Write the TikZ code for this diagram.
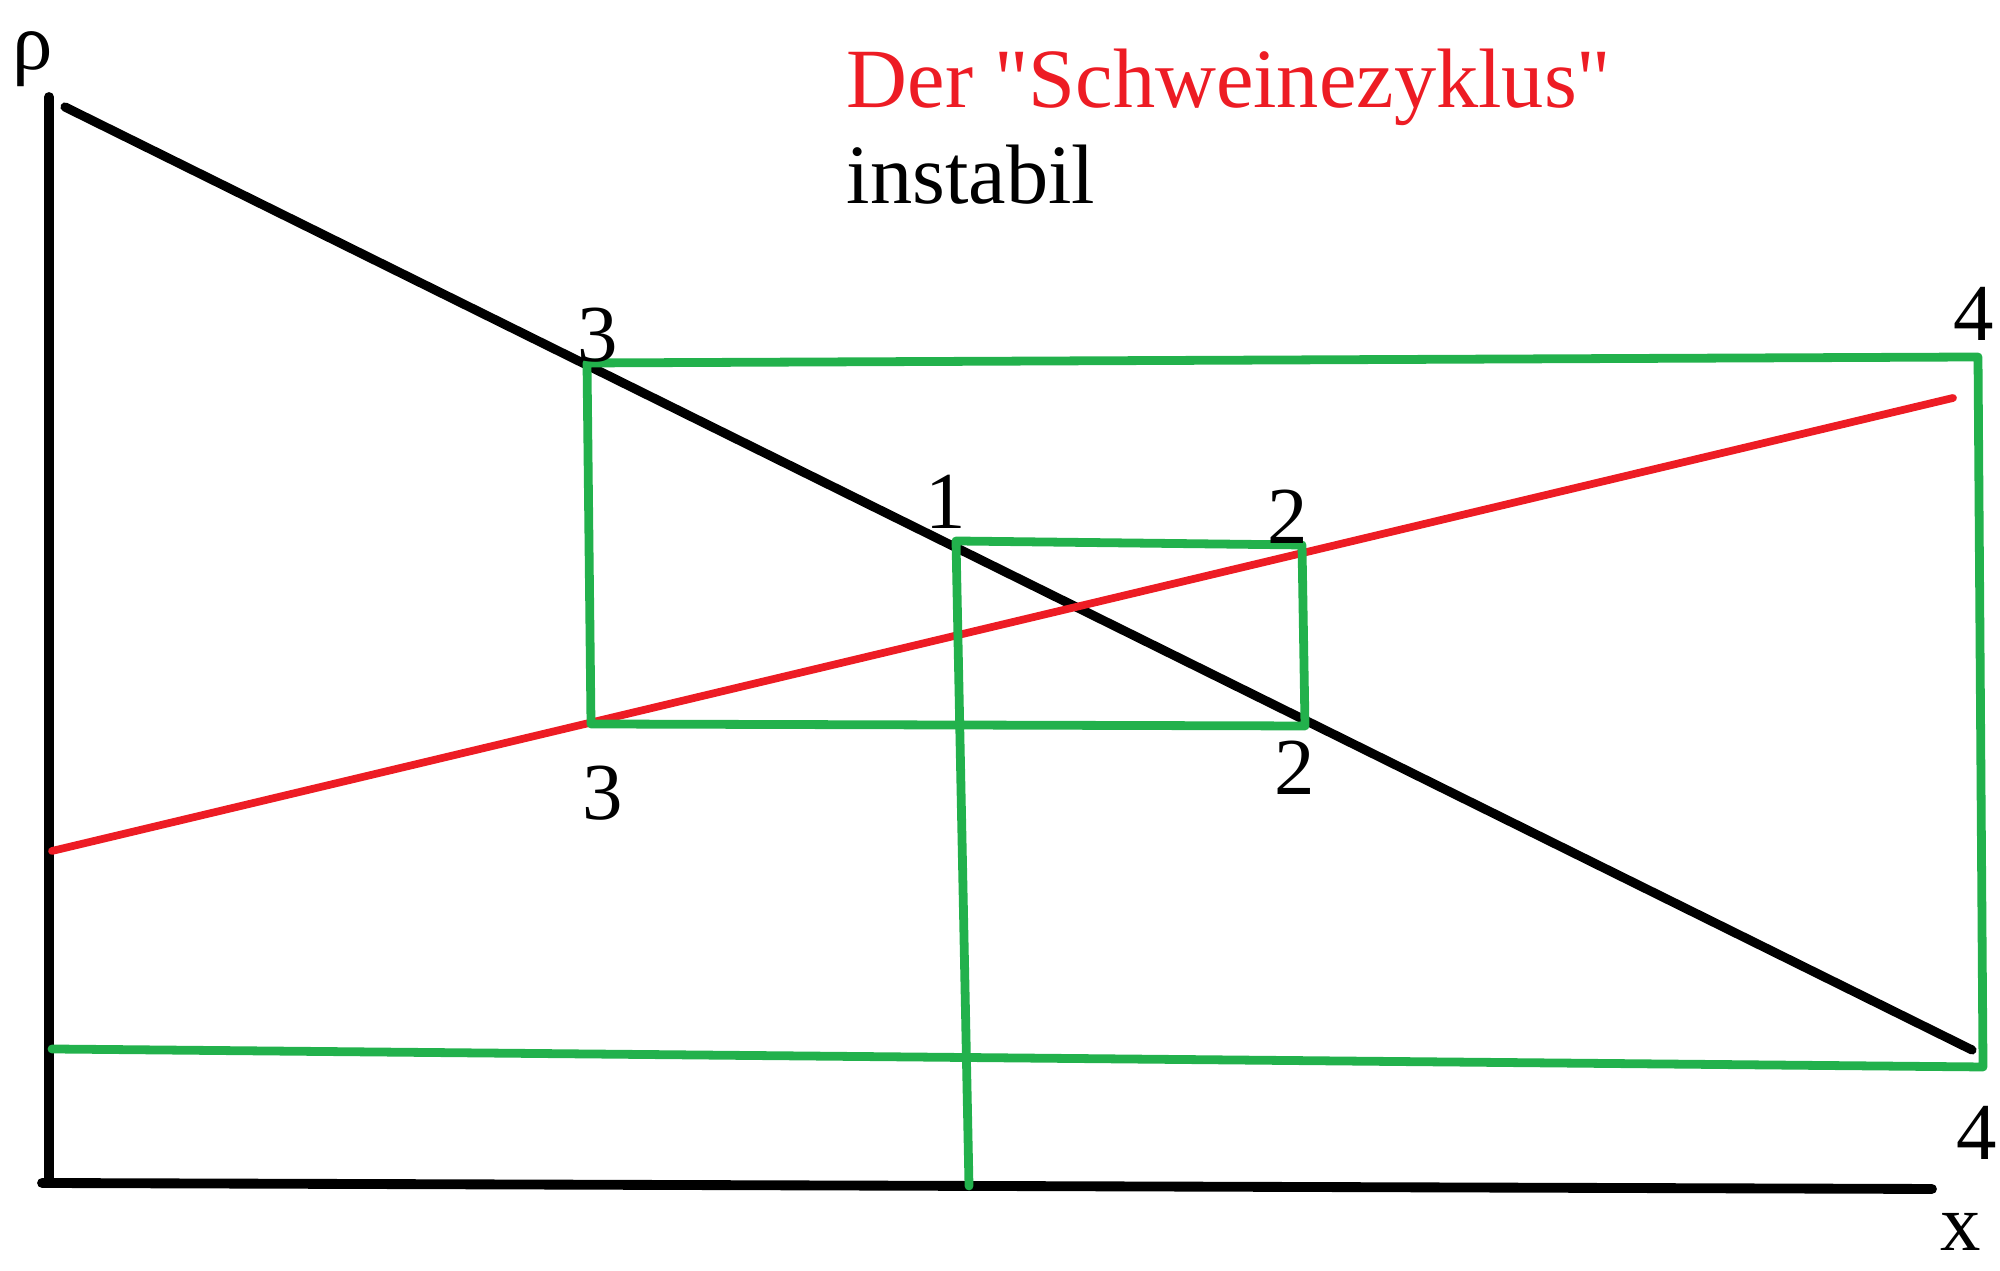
\documentclass[tikz,border=0pt]{standalone}
\usepackage{fontspec}
\setmainfont{Liberation Serif}
\usepackage{xcolor}
\usepackage{tikz}
\definecolor{paintgreen}{RGB}{34,177,76}
\definecolor{paintred}{RGB}{237,28,36}

\begin{document}
\begin{tikzpicture}[
        axis/.style={line width=2.8pt, line cap=round, black},
        demand/.style={line width=2.6pt, line cap=round, black},
        supply/.style={line width=2.2pt, line cap=round, paintred},
        cobweb/.style={line width=2.5pt, line cap=round, line join=round, paintgreen},
        lbl/.style={inner sep=0pt, font=\fontsize{23}{27}\selectfont},
    ]
        \useasboundingbox (0,0) rectangle (20,12.71);

        \coordinate (orig) at (0.49,0.88);
        \coordinate (ytop) at (0.49,11.74);
        \coordinate (xstart) at (0.42,0.88);
        \coordinate (xend) at (19.32,0.82);
        \coordinate (dA) at (0.65,11.64);
        \coordinate (dB) at (19.72,2.21);
        \coordinate (sA) at (0.52,4.20);
        \coordinate (sB) at (19.53,8.73);

        \coordinate (p0) at (9.69,0.85);
        \coordinate (p1) at (9.56,7.30);
        \coordinate (p2u) at (13.02,7.26);
        \coordinate (p2l) at (13.05,5.45);
        \coordinate (p3l) at (5.91,5.47);
        \coordinate (p3u) at (5.87,9.08);
        \coordinate (p4u) at (19.78,9.14);
        \coordinate (p4l) at (19.83,2.04);
        \coordinate (p5) at (0.52,2.22);

        \draw[axis] (orig) -- (ytop);
        \draw[axis] (xstart) -- (xend);
        \draw[demand] (dA) -- (dB);
        \draw[supply] (sA) -- (sB);
        \draw[cobweb] (p0) -- (p1) -- (p2u) -- (p2l) -- (p3l) -- (p3u) -- (p4u) -- (p4l) -- (p5);

        \node[lbl] (rho) at (0.33,12.12) {ρ};
        \node[lbl] (xlab) at (19.61,0.39) {x};
        \node[lbl] (n1) at (9.46,7.69) {1};
        \node[lbl] (n2u) at (12.88,7.54) {2};
        \node[lbl] (n2l) at (12.95,5.03) {2};
        \node[lbl] (n3u) at (5.98,9.36) {3};
        \node[lbl] (n3l) at (6.03,4.78) {3};
        \node[lbl] (n4u) at (19.74,9.57) {4};
        \node[lbl] (n4l) at (19.77,1.38) {4};

        \node[lbl, anchor=base west, text=paintred, font=\fontsize{24}{28}\selectfont] (title) at (8.46,11.63) {Der \textquotedbl Schweinezyklus\textquotedbl};
        \node[lbl, anchor=base west, font=\fontsize{24}{28}\selectfont] (stab) at (8.46,10.67) {instabil};

    \end{tikzpicture}
\end{document}
